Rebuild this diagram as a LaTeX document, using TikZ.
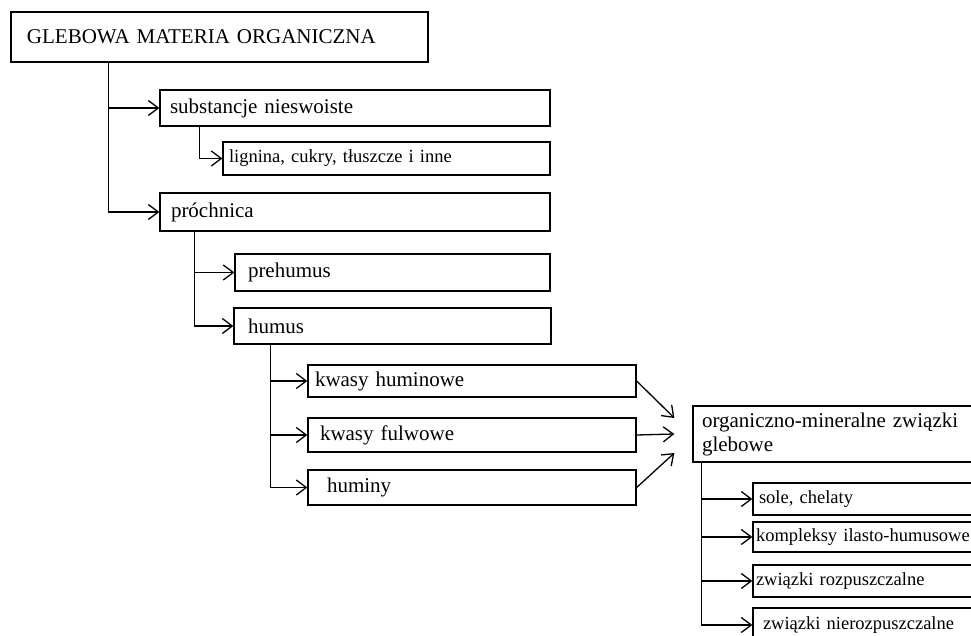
\documentclass[tikz,border=0pt]{standalone}
\usepackage{fontspec}
\setmainfont{Liberation Serif}
\usetikzlibrary{calc,arrows.meta}
\tikzset{
  bx/.style={draw, line width=1.3pt, inner ysep=0pt, align=left, font=\fontsize{21}{24}\selectfont},
  sbx/.style={bx, font=\fontsize{18.5}{22}\selectfont},
  arr/.style={line width=1.3pt, -{Straight Barb[length=10pt,width=15pt]}},
  ln/.style={line width=1.3pt}
}
\begin{document}
\begin{tikzpicture}[x=1pt,y=-1pt]
\useasboundingbox (0,0) rectangle (971,636);
\clip (0,0) rectangle (971,636);
% nodes
\node[bx, minimum width=417, minimum height=50, text width=385, inner xsep=16] (top) at (219.5,37) {GLEBOWA MATERIA ORGANICZNA};
\node[bx, minimum width=390, minimum height=36, text width=370, inner xsep=10] (subst) at (355,108) {substancje nieswoiste};
\node[sbx, minimum width=327, minimum height=33, text width=315, inner xsep=6] (lig) at (386.5,158.5) {lignina, cukry, tłuszcze i inne};
\node[bx, minimum width=390, minimum height=38, text width=368, inner xsep=11] (proch) at (355,212) {próchnica};
\node[bx, minimum width=315, minimum height=37, text width=289, inner xsep=13] (preh) at (392.5,272.5) {prehumus};
\node[bx, minimum width=317, minimum height=36, text width=289, inner xsep=14] (humus) at (392.5,326) {humus};
\node[bx, minimum width=328, minimum height=32, text width=314, inner xsep=7] (kh) at (472,381) {kwasy huminowe};
\node[bx, minimum width=328, minimum height=34, text width=304, inner xsep=12] (kf) at (472,435) {kwasy fulwowe};
\node[bx, minimum width=328, minimum height=35, text width=290, inner xsep=19] (hum) at (472,487.5) {huminy};
\node[bx, minimum width=307, minimum height=56, text width=289, inner xsep=9] (org) at (846.5,434) {organiczno-mineralne związki\\glebowe};
\node[sbx, minimum width=247, minimum height=32, text width=235, inner xsep=6] (sole) at (876.5,499) {sole, chelaty};
\node[sbx, minimum width=247, minimum height=30, text width=241, inner xsep=3] (komp) at (876.5,537) {kompleksy ilasto-humusowe};
\node[sbx, minimum width=247, minimum height=32, text width=241, inner xsep=3] (rozp) at (876.5,581) {związki rozpuszczalne};
\node[sbx, minimum width=247, minimum height=34, text width=227, inner xsep=10] (nier) at (876.5,625) {związki nierozpuszczalne};
% trunks
\coordinate (t1) at ($(top.south west)+(98,0)$);
\draw[arr] (t1) |- (subst.west);
\draw[arr] (t1) |- (proch.west);
\coordinate (t2) at ($(subst.south west)+(40,0)$);
\draw[arr] (t2) |- (lig.west);
\coordinate (t3) at ($(proch.south west)+(35,0)$);
\draw[arr] (t3) |- (preh.west);
\draw[arr] (t3) |- (humus.west);
\coordinate (t4) at ($(humus.south west)+(37,0)$);
\draw[arr] (t4) |- (kh.west);
\draw[arr] (t4) |- (kf.west);
\draw[arr] (t4) |- (hum.west);
\coordinate (t5) at ($(org.south west)+(9,0)$);
\draw[arr] (t5) |- (sole.west);
\draw[arr] (t5) |- (komp.west);
\draw[arr] (t5) |- (rozp.west);
\draw[arr] (t5) |- (nier.west);
% converging arrows
\coordinate (e1) at ($(org.west)+(-18,-16)$);
\coordinate (e2) at ($(org.west)+(-18,0)$);
\coordinate (e3) at ($(org.west)+(-18,19)$);
\draw[arr] (kh.east) -- (e1);
\draw[arr] (kf.east) -- (e2);
\draw[arr] (hum.east) -- (e3);
\end{tikzpicture}
\end{document}
